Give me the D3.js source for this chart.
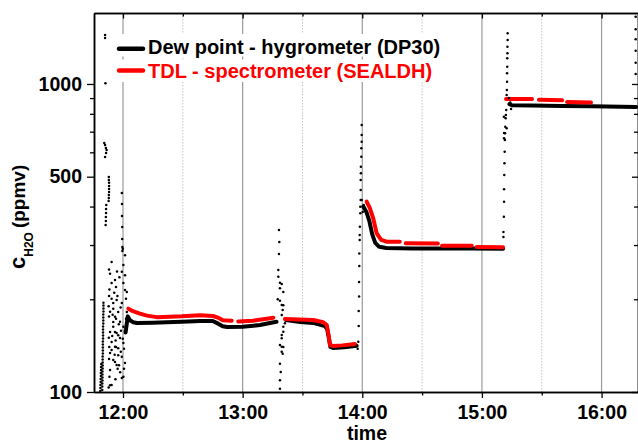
<!DOCTYPE html>
<html><head><meta charset="utf-8">
<script src="https://cdn.jsdelivr.net/npm/d3@7"></script>
<style>
body{margin:0;background:#fff}
svg{display:block}
text{font-family:"Liberation Sans",Arial,Helvetica,sans-serif;font-weight:bold}
</style>
</head><body><div id="chart"></div>
<script>
// ---- data (time = minutes after midnight, value = ppmv) ----
const timeDomain = [705.46, 978.27];
const yDomain = [100, 1700];
const xTickMinutes = [720, 780, 840, 900, 960];
const xMinorMinutes = [750, 810, 870, 930];
const yTickValues = [100, 500, 1000];
const yMinorValues = [200, 300, 400, 600, 700, 800, 900];
const seriesNames = ["Dew point - hygrometer (DP30)", "TDL - spectrometer (SEALDH)"];
const seriesColors = ["#000000", "#ff0000"];

// DP30 dense sections (drawn as thick lines)
const dp30Segments = [
  [[721.3,156],[722.4,176],[723.5,171],[725,168.5],[727,167.5],[735,167.9],[742,168.5],[749.6,169],[758.6,170],[765,170],[767.5,167],[770,163.5],[772.2,162.6],[780,162.8],[788.7,165],[793.7,167.5],[797,169]],
  [[801.7,171.3],[808.8,168.8],[815.3,167.6],[821.3,163.8],[822.4,160],[823.2,150],[824,140],[825.3,139],[831,139.8],[837.2,141.3]],
  [[840.5,400],[842,385],[843.5,360],[845,325],[846.5,305],[848.5,296],[852,293.5],[865,292.5],[880,292.5],[895,292.5],[910.6,292]],
  [[913.8,860],[915,853],[925,851],[940,849],[955,846],[977.3,842]]
];

// SEALDH sections
const sealdhSegments = [
  [[722.7,186.4],[725,183],[728.5,179.6],[732,177],[736.9,175],[749.6,176.1],[758.6,177.5],[765.1,176.5],[768,174],[770.1,171],[774.5,170.4]],
  [[777.8,169.4],[785.2,170.4],[792.1,173],[795.4,174.3]],
  [[801.2,172.6],[808,172],[815.4,171.3],[820.4,168.5],[822.2,165],[823.2,152],[823.8,142.1],[825.3,141.1],[830,141.7],[836.3,143.1]],
  [[842.2,415],[843.8,395],[845.5,366],[847.2,327.6],[849.5,312],[852.2,307.6],[858.8,307.6]],
  [[861.8,303.9],[877.9,303.6]],
  [[880,298.6],[894.9,298.2]],
  [[897.4,295.5],[910.6,295]],
  [[912.1,894],[925.1,893]],
  [[928.6,888],[940.2,886]],
  [[942.7,874],[954.7,871]]
];

// DP30 scattered readings during the transitions
const dp30Points = [
  // 11:48 - 12:02
  [708.6,100.7],[708.7,103],[708.7,105.4],[708.8,107.8],[708.8,110.2],[708.9,112.7],[708.9,115.3],[709.0,117.9],[709.0,120.5],[709.1,123.3],
  [709.6,101.5],[709.6,104.2],[709.6,106.6],[709.7,109],[709.7,111.5],[709.7,114],[709.7,116.6],[709.8,119.2],[709.8,122],[709.8,124.7],
  [709.8,127.5],[709.8,130.4],[709.9,133.4],[709.9,136.4],[709.9,139.5],[709.9,142.7],[709.9,145.9],[710.0,149.2],[710.0,152.6],[710.0,156],
  [710.0,159.6],[710.0,163.2],[710.1,166.9],[710.1,170.7],[710.1,174.6],[710.1,178.5],[710.2,182.5],[710.2,186.6],[710.2,190.8],[710.2,195],
  [711.0,1443],[711.0,1411],[711.2,1005],[710.6,643],[711.0,634],[711.4,620],[711.8,610],[711.5,597],[711.0,579],
  [712.9,499],[712.9,488],[713.0,477.6],[713.0,466.5],[713.0,456.1],[713.0,446],[712.9,436],[712.9,426.5],[712.8,417],
  [711.6,404.7],[711.5,392.8],[711.5,381.2],[711.4,370],[711.4,359.2],[711.3,348.5],
  [719.4,442.8],[719.5,407.7],[719.5,372.8],[719.6,343.3],[719.6,313.9],[719.7,295.7],[719.7,287],
  [714.3,264.3],[713.5,242.2],[720.2,258.4],[719.4,245.9],[716.0,231],[716.5,219.3],[714.3,225.9],[720.2,225.9],[721.0,214.4],
  [714.3,200.9],[716.8,198.9],[715.1,194.5],[719.4,194.5],[715.1,186.4],[717.6,181.9],[713.5,182.3],[716.0,175.6],[716.5,173],
  [715.1,168.8],[718.5,169.2],[715.1,162.9],[720.2,162.9],[713.5,156.6],[716.0,156.6],[716.8,155.4],[717.6,152.8],[718.5,149.7],
  [714.3,145.3],[720.2,144.2],[716.0,140.3],[716.5,140],[717.6,138.7],[714.3,136.9],[713.5,133.8],[717.6,131.6],[719.4,130.2],
  [715.1,127],[716.0,125.1],[718.0,122.1],[721.0,124.2],[716.8,122.4],[713.5,117.9],[720.2,112.1],[719.4,111],[714.3,105.4],
  [713.5,105.1],[720.5,119],[721.0,277.9],[721.0,239.3],[719.9,292],[721.9,211.2],[721.5,200.9],[721.9,181.9],[721.5,173],
  [721.0,156.6],[719.9,148.9],[720.5,138.2],[713.0,250],[713.2,215],[713.0,205],[712.8,190],[713.0,176],[712.9,150],
  [713.1,140],[713.0,128],[713.2,112],[712.8,103.5],[717.0,246],[718.2,236],[715.6,210],[717.2,205],[718.8,188],
  [714.8,178],[717.9,166],[719.0,158],[714.6,152],[716.3,147],[718.9,135],[715.8,132],[717.3,119],[718.6,116],[716.2,110],
  // 13:18 - 13:21
  [798.2,335.7],[798.4,307],[798.2,280.5],[797.9,249],[797.9,236.8],[798.7,226.4],[799.6,224.2],[798.7,217.1],[800.4,211.2],
  [797.6,200],[798.7,197.9],[800.4,191.2],[799.6,191.6],[800.1,184.6],[799.6,177.8],[801.2,167.1],[800.4,162.9],[800.4,157],
  [799.6,153.1],[799.6,149.4],[798.7,142.1],[799.6,140.3],[800.4,140],[799.6,135.1],[800.1,133.2],[798.7,123.6],[799.1,116.1],
  [798.7,109.1],[798.7,102.5],
  // 13:57 - 14:01
  [837.7,138.2],[838.0,145.7],[838.2,163.8],[838.2,183.2],[838.4,204.2],[838.4,227.6],[838.5,256.5],[838.5,281.7],[838.7,311.6],
  [838.7,323.4],[838.8,344.1],[839.0,380.4],[839.0,399.6],[839.2,420.2],[839.2,452.8],[839.2,487.9],[839.3,513.1],[839.3,538.9],
  [839.5,580.7],[839.5,618.3],[839.7,649.6],[839.7,683],[839.7,736],[839.7,420],[840.7,405],[840.2,384],
  // 15:11 - 15:13
  [910.8,318.6],[910.8,330.7],[911.0,370.9],[911.1,414.9],[911.1,455.1],[911.2,506.4],[911.3,552.6],[911.4,602.9],[911.5,658],
  [911.6,691.8],[911.7,726.6],[911.9,773.7],[912.0,793.1],[912.2,823],[912.4,921],[912.5,956],[912.6,1017],[912.6,1083],
  [912.7,1138],[912.7,1212],[912.8,1258],[912.8,1322],[912.9,1389],[912.9,1461],[911.0,783],[912.4,718],[911.1,693],[911.1,666],
  [913.5,900],[914.2,870],[914.6,830],
  // 16:17
  [977.1,1654],[977.1,1506],[977.1,1397],[977.1,1283],[977.1,1173],[977.1,1078]
];

// ---- chart ----
const W = 638, H = 444;
const m = {left: 94, top: 13, right: 638, bottom: 392};
const base = Date.UTC(2016, 0, 1);
const toDate = t => new Date(base + t * 60000);

const svg = d3.select("#chart").append("svg").attr("width", W).attr("height", H);
const x = d3.scaleUtc().domain(timeDomain.map(toDate)).range([m.left, m.right]);
const y = d3.scaleLog().domain(yDomain).range([m.bottom, m.top]);

// grid
svg.append("g").selectAll("line").data(xTickMinutes).join("line")
  .attr("x1", d => x(toDate(d))).attr("x2", d => x(toDate(d)))
  .attr("y1", m.top).attr("y2", m.bottom)
  .attr("stroke", "#9a9a9a").attr("stroke-width", 1.2);
svg.append("g").selectAll("line").data(xMinorMinutes).join("line")
  .attr("x1", d => x(toDate(d))).attr("x2", d => x(toDate(d)))
  .attr("y1", m.top).attr("y2", m.bottom)
  .attr("stroke", "#c4c4c4").attr("stroke-width", 1).attr("stroke-dasharray", "1.5,1.5");

// legend backgrounds (cover grid)
svg.append("rect").attr("x", 114).attr("y", 34).attr("width", 334).attr("height", 22.5).attr("fill", "#fff");
svg.append("rect").attr("x", 114).attr("y", 59.5).attr("width", 334).attr("height", 22.5).attr("fill", "#fff");

// data
const line = d3.line().x(d => x(toDate(d[0]))).y(d => y(d[1]));
svg.append("g").selectAll("path").data(dp30Segments).join("path")
  .attr("d", line).attr("fill", "none").attr("stroke", seriesColors[0])
  .attr("stroke-width", 4).attr("stroke-linejoin", "round").attr("stroke-linecap", "round");
svg.append("g").selectAll("path").data(sealdhSegments).join("path")
  .attr("d", line).attr("fill", "none").attr("stroke", seriesColors[1])
  .attr("stroke-width", 4).attr("stroke-linejoin", "round").attr("stroke-linecap", "round");
svg.append("g").selectAll("circle").data(dp30Points).join("circle")
  .attr("cx", d => x(toDate(d[0]))).attr("cy", d => y(d[1])).attr("r", 1.25).attr("fill", seriesColors[0]);

// axes
const fmt = d3.utcFormat("%H:%M");
function styleAxis(g) {
  g.select(".domain").attr("stroke", "#000").attr("stroke-width", 1.5);
  g.selectAll(".tick line").attr("stroke", "#000").attr("stroke-width", 1.3);
  g.selectAll(".tick text").attr("fill", "#000").style("font-size", "19.5px").style("font-weight", "bold")
    .style("font-family", '"Liberation Sans",Arial,sans-serif');
}
const xt = xTickMinutes.map(toDate), xm = xMinorMinutes.map(toDate);
svg.append("g").attr("transform", `translate(0,${m.bottom})`)
  .call(d3.axisBottom(x).tickValues(xt).tickFormat(fmt).tickSize(6).tickSizeOuter(0).tickPadding(7)).call(styleAxis);
svg.append("g").attr("transform", `translate(0,${m.bottom})`)
  .call(d3.axisBottom(x).tickValues(xm).tickFormat("").tickSize(3.5).tickSizeOuter(0)).call(styleAxis);
svg.append("g").attr("transform", `translate(0,${m.top})`)
  .call(d3.axisTop(x).tickValues(xt).tickFormat("").tickSize(-5.5).tickSizeOuter(0)).call(styleAxis);
svg.append("g").attr("transform", `translate(0,${m.top})`)
  .call(d3.axisTop(x).tickValues(xm).tickFormat("").tickSize(-3.5).tickSizeOuter(0)).call(styleAxis);
svg.append("g").attr("transform", `translate(${m.left},0)`)
  .call(d3.axisLeft(y).tickValues(yTickValues).tickFormat(d3.format("d")).tickSize(7).tickSizeOuter(0).tickPadding(5)).call(styleAxis);
svg.append("g").attr("transform", `translate(${m.left},0)`)
  .call(d3.axisLeft(y).tickValues(yMinorValues).tickFormat("").tickSize(4).tickSizeOuter(0)).call(styleAxis);
svg.append("g").attr("transform", `translate(${m.right},0)`)
  .call(d3.axisRight(y).tickValues(yTickValues).tickFormat("").tickSize(-6).tickSizeOuter(0)).call(styleAxis);
svg.append("g").attr("transform", `translate(${m.right},0)`)
  .call(d3.axisRight(y).tickValues(yMinorValues).tickFormat("").tickSize(-4).tickSizeOuter(0)).call(styleAxis);

// axis titles
svg.append("text").attr("x", 367).attr("y", 439.5).attr("text-anchor", "middle")
  .style("font-size", "19.5px").text("time");
const yl = svg.append("text").attr("transform", "translate(25,269) rotate(-90)");
yl.append("tspan").style("font-size", "22px").text("c");
yl.append("tspan").style("font-size", "12px").attr("dy", 8).text("H2O");
yl.append("tspan").style("font-size", "19px").attr("dy", -8).attr("dx", 4).text("(ppmv)");

// legend
const ly = [48.7, 70.5], lty = [53.5, 78];
seriesNames.forEach((name, i) => {
  svg.append("line").attr("x1", 119).attr("x2", 143).attr("y1", ly[i]).attr("y2", ly[i])
    .attr("stroke", seriesColors[i]).attr("stroke-width", 4.5).attr("stroke-linecap", "round");
  svg.append("text").attr("x", 148).attr("y", lty[i]).attr("fill", seriesColors[i])
    .style("font-size", "20px").text(name);
});
</script>
</body></html>
